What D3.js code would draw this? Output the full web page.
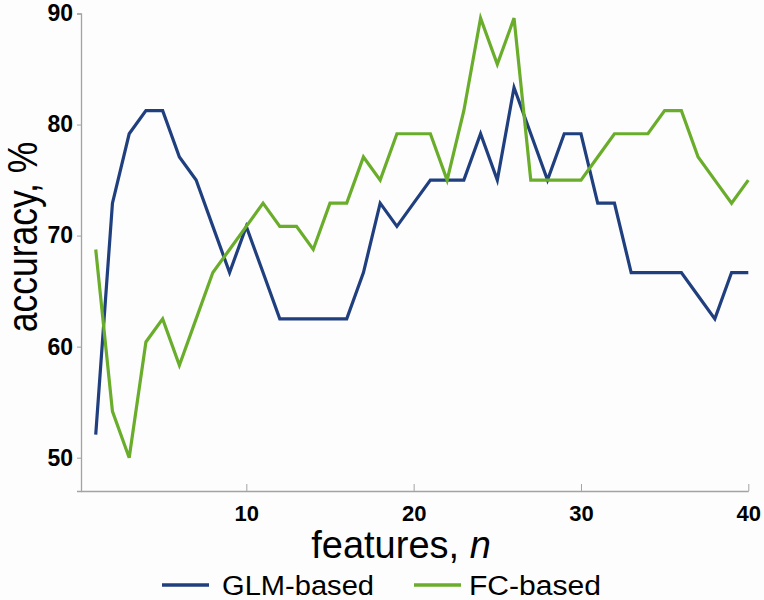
<!DOCTYPE html>
<html>
<head>
<meta charset="utf-8">
<script src="https://cdn.jsdelivr.net/npm/d3@7"></script>
<style>
  html, body { margin: 0; padding: 0; background: #fdfdfe; }
  svg { display: block; font-family: "Liberation Sans", Arial, sans-serif; }
</style>
</head>
<body>
<svg id="chart" width="764" height="600"></svg>
<script>
// number of features
const features = d3.range(1, 41);

// accuracy (%) per feature count
const glmValues = [
  52.08, 72.92, 79.17, 81.25, 81.25, 77.08, 75.00, 70.83, 66.67, 70.83,
  66.67, 62.50, 62.50, 62.50, 62.50, 62.50, 66.67, 72.92, 70.83, 72.92,
  75.00, 75.00, 75.00, 79.17, 75.00, 83.33, 79.17, 75.00, 79.17, 79.17,
  72.92, 72.92, 66.67, 66.67, 66.67, 66.67, 64.58, 62.50, 66.67, 66.67
];
const fcValues = [
  68.75, 54.17, 50.00, 60.42, 62.50, 58.33, 62.50, 66.67, 68.75, 70.83,
  72.92, 70.83, 70.83, 68.75, 72.92, 72.92, 77.08, 75.00, 79.17, 79.17,
  79.17, 75.00, 81.25, 89.58, 85.42, 89.58, 75.00, 75.00, 75.00, 75.00,
  77.08, 79.17, 79.17, 79.17, 81.25, 81.25, 77.08, 75.00, 72.92, 75.00
];

const xTicks = [10, 20, 30, 40];
const yTicks = [50, 60, 70, 80, 90];

const seriesNames = ['GLM-based', 'FC-based'];
const seriesColors = ['#203f7e', '#6aad2b'];

const svg = d3.select('#chart');

const x = d3.scaleLinear().domain([0.12, 40]).range([81, 748.3]);
const y = d3.scaleLinear().domain([47, 90]).range([491, 13.5]);

const axisColor = '#a3a3a3';
const tickFont = '"Liberation Sans", Arial, sans-serif';

// Y axis
const yAxis = svg.append('g')
    .attr('transform', `translate(${x.range()[0]},0)`)
    .call(d3.axisLeft(y).tickValues(yTicks).tickSize(4).tickPadding(4));
yAxis.select('.domain').attr('stroke', axisColor).attr('stroke-width', 1.3);
yAxis.selectAll('.tick line').attr('stroke', axisColor);
yAxis.selectAll('.tick text')
    .attr('fill', '#000')
    .style('font-size', '23px')
    .style('font-weight', 'bold')
    .style('font-family', tickFont);

// X axis (ticks pointing up)
const xAxis = svg.append('g')
    .attr('transform', `translate(0,${y.range()[0]})`)
    .call(d3.axisBottom(x).tickValues(xTicks).tickSizeInner(-7).tickSizeOuter(0).tickPadding(14));
xAxis.select('.domain').attr('stroke', axisColor).attr('stroke-width', 1.3);
xAxis.selectAll('.tick line').attr('stroke', axisColor);
xAxis.selectAll('.tick text')
    .attr('fill', '#000')
    .style('font-size', '22px')
    .style('font-weight', 'bold')
    .style('font-family', tickFont);

// Lines
const line = d3.line()
    .x((d, i) => x(features[i]))
    .y(d => y(d));

[glmValues, fcValues].forEach((vals, i) => {
    svg.append('path')
        .datum(vals)
        .attr('fill', 'none')
        .attr('stroke', seriesColors[i])
        .attr('stroke-width', 3.2)
        .attr('stroke-linejoin', 'miter')
        .attr('d', line);
});

// Axis titles
const xt = svg.append('text')
    .attr('x', 401)
    .attr('y', 558)
    .attr('text-anchor', 'middle')
    .style('font-size', '38px')
    .attr('fill', '#000');
xt.append('tspan').text('features, ');
xt.append('tspan').style('font-style', 'italic').text('n');

svg.append('text')
    .attr('transform', 'translate(37,237) rotate(-90) scale(1,1.18)')
    .attr('text-anchor', 'middle')
    .style('font-size', '35.5px')
    .attr('fill', '#000')
    .text('accuracy, %');

// Legend
const legendX = [162, 414];
const legendTextX = [60, 55];
const legendTextLen = [152, 132];
seriesNames.forEach((name, i) => {
    const g = svg.append('g').attr('transform', `translate(${legendX[i]},585)`);
    g.append('line')
        .attr('x1', 0).attr('x2', 47)
        .attr('y1', 0).attr('y2', 0)
        .attr('stroke', seriesColors[i])
        .attr('stroke-width', 3.5);
    g.append('text')
        .attr('x', legendTextX[i])
        .attr('y', 10)
        .attr('textLength', legendTextLen[i])
        .attr('lengthAdjust', 'spacingAndGlyphs')
        .style('font-size', '27px')
        .attr('fill', '#000')
        .text(name);
});
</script>
</body>
</html>
